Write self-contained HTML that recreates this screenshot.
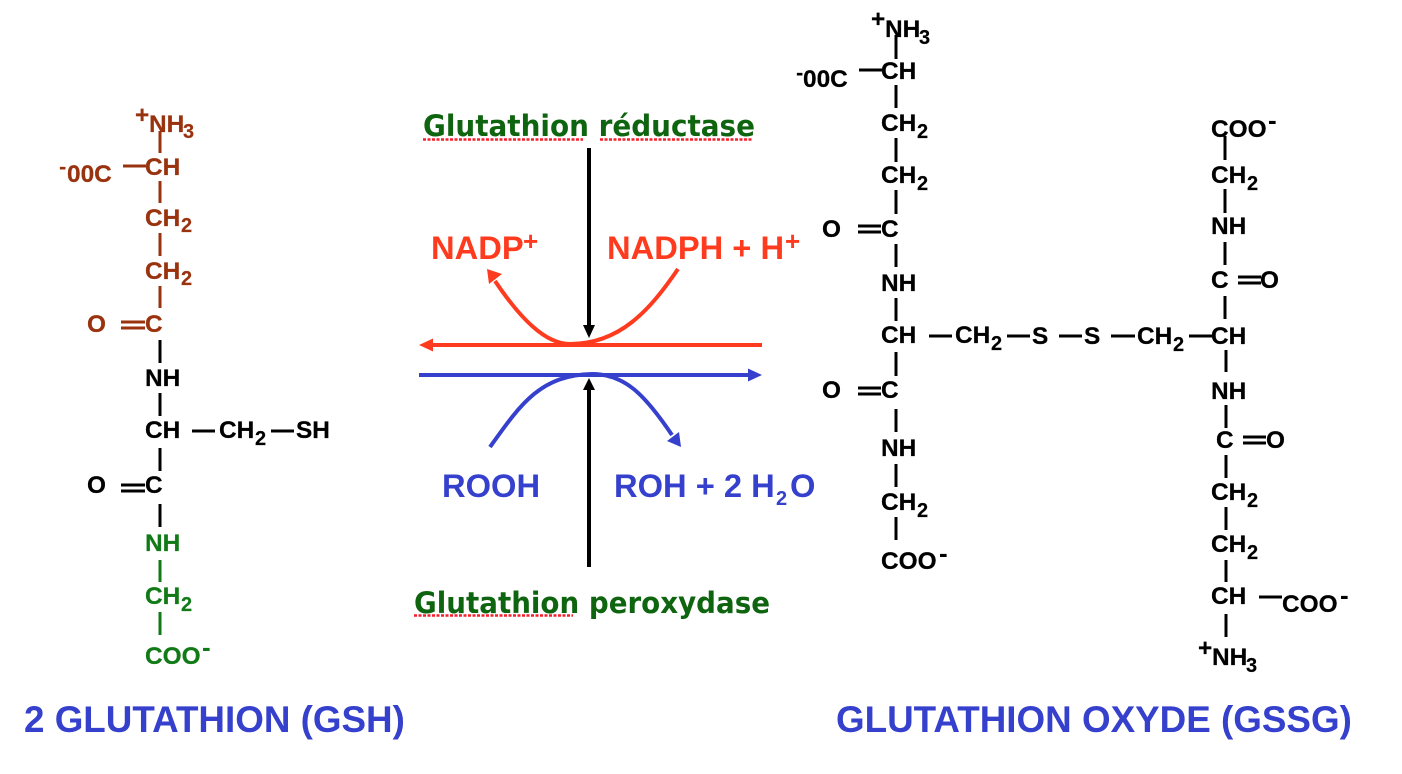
<!DOCTYPE html>
<html><head><meta charset="utf-8"><style>
html,body{margin:0;padding:0;background:#fff}
svg{display:block}
text{font-family:"Liberation Sans",Arial,sans-serif;font-weight:bold}
.m{font-size:24.4px;stroke:#000;stroke-width:.25px}
.s{font-size:15px}
.p{font-size:20px;stroke:#000;stroke-width:.2px}
.mi{font-size:26px}
.big{font-size:32.7px}
.sup{font-size:26px}
.h{font-size:36.8px;fill:#3540cc}
.c{font-family:"DejaVu Sans",sans-serif;font-size:29px;fill:#0f640f}
.br text{fill:#99330f;stroke:#99330f}.gr text{fill:#117a17;stroke:#117a17}
.br .mi,.gr .mi{stroke:none}
</style></head><body>
<svg width="1402" height="774" viewBox="0 0 1402 774" xmlns="http://www.w3.org/2000/svg">
<!-- left chain -->
<g stroke="#99330f" stroke-width="3" fill="none">
<path d="M160 131V153M160 181V203M160 233V256M160 286V308M123 166H146M121 322H145M121 328H145"/>
</g>
<g stroke="#000" stroke-width="3" fill="none">
<path d="M160 340V363M160 393V416M160 448V471M160 504V527M192 431H215M271 431H294M121 485H145M121 491H145"/>
</g>
<g stroke="#117a17" stroke-width="3" fill="none"><path d="M160 560V582M160 612V635"/></g>
<g class="br">
<text class="m" x="135" y="123">+</text><text class="m" x="149" y="132">NH</text><text class="p" x="183" y="138">3</text>
<text class="m" x="145" y="175">CH</text>
<text class="mi" x="59" y="174" style="font-size:22px">-</text><text class="m" x="67" y="182">00C</text>
<text class="m" x="145" y="226">CH</text><text class="p" x="181" y="232">2</text>
<text class="m" x="145" y="279">CH</text><text class="p" x="181" y="285">2</text>
<text class="m" x="87" y="332">O</text><text class="m" x="145" y="332">C</text>
</g>
<text class="m" x="145" y="386">NH</text>
<text class="m" x="145" y="438">CH</text><text class="m" x="219" y="438">CH</text><text class="p" x="255" y="445">2</text><text class="m" x="296" y="438">SH</text>
<text class="m" x="87" y="493">O</text><text class="m" x="145" y="493">C</text>
<g class="gr">
<text class="m" x="145" y="551">NH</text>
<text class="m" x="145" y="604">CH</text><text class="p" x="181" y="611">2</text>
<text class="m" x="145" y="664">COO</text><text class="mi" x="202" y="656">-</text>
</g>
<!-- centre -->
<text class="c" x="423" y="136" textLength="332" lengthAdjust="spacingAndGlyphs">Glutathion réductase</text>
<path d="M423 139.500H583M600 139.500H752" stroke="#f5202a" stroke-width="2.500" stroke-dasharray="3 1.500" fill="none"/>
<text class="c" x="414" y="613" textLength="356" lengthAdjust="spacingAndGlyphs">Glutathion peroxydase</text>
<path d="M414 615.500H573" stroke="#f5202a" stroke-width="2.500" stroke-dasharray="3 1.500" fill="none"/>
<text class="big" x="431" y="259" fill="#ff3b1f">NADP</text><text class="sup" x="523" y="250" fill="#ff3b1f">+</text>
<text class="big" x="607" y="259" fill="#ff3b1f">NADPH + H</text><text class="sup" x="785" y="250" fill="#ff3b1f">+</text>
<text class="big" x="442" y="497" fill="#3540cc">ROOH</text>
<text class="big" x="614" y="497" fill="#3540cc">ROH + 2 H</text><text class="p" x="776" y="505" fill="#3540cc" style="stroke:none">2</text><text class="big" x="790" y="497" fill="#3540cc">O</text>
<!-- red -->
<path d="M433 345H762" stroke="#ff3b1f" stroke-width="4" fill="none"/>
<path d="M419 345L433 338.500V351.500Z" fill="#ff3b1f"/>
<path d="M678 269C650 310 620 344 570 344C545 344 520 318 495 281" stroke="#ff3b1f" stroke-width="4" fill="none"/>
<path d="M487 269L502 274L489 284Z" fill="#ff3b1f"/>
<!-- blue -->
<path d="M419 375H748" stroke="#3540cc" stroke-width="4" fill="none"/>
<path d="M762 375L748 368.500V381.500Z" fill="#3540cc"/>
<path d="M490 447C520 405 540 375 592 374C625 374 645 395 672 435" stroke="#3540cc" stroke-width="4" fill="none"/>
<path d="M681 447L667 441L679 432Z" fill="#3540cc"/>
<!-- black arrows -->
<path d="M589 148V326M589 567V390" stroke="#000" stroke-width="4" fill="none"/>
<path d="M589 338L583 325H595ZM589 378L583 390H595Z" fill="#000"/>
<!-- right chain left strand -->
<path d="M896 35V59M896 85V108M896 138V162M896 190V214M896 244V267M896 298V321M896 352V376M896 409V432M896 464V487M896 517V540M859 70H882M858 226H881M858 232H881M858 388H881M858 394H881M929 336H952M1007 336H1030M1059 336H1082M1111 336H1135M1189 336H1212" stroke="#000" stroke-width="3" fill="none"/>
<text class="m" x="871" y="27">+</text><text class="m" x="885" y="37">NH</text><text class="p" x="919" y="44">3</text>
<text class="m" x="881" y="79">CH</text>
<text class="mi" x="796" y="80" style="font-size:22px">-</text><text class="m" x="803" y="87">00C</text>
<text class="m" x="881" y="131">CH</text><text class="p" x="917" y="138">2</text>
<text class="m" x="881" y="183">CH</text><text class="p" x="917" y="190">2</text>
<text class="m" x="822" y="237">O</text><text class="m" x="881" y="237">C</text>
<text class="m" x="881" y="291">NH</text>
<text class="m" x="881" y="343">CH</text><text class="m" x="955" y="343">CH</text><text class="p" x="991" y="350">2</text>
<text class="m" x="822" y="398">O</text><text class="m" x="881" y="398">C</text>
<text class="m" x="881" y="456">NH</text>
<text class="m" x="881" y="510">CH</text><text class="p" x="917" y="517">2</text>
<text class="m" x="881" y="569">COO</text><text class="mi" x="939" y="562">-</text>
<text class="m" x="1032" y="344">S</text><text class="m" x="1084" y="344">S</text>
<text class="m" x="1137" y="344">CH</text><text class="p" x="1173" y="351">2</text>
<!-- right strand -->
<path d="M1225 136V160M1225 189V213M1225 242V265M1225 296V319M1226 350V372M1226 405V428M1226 455V478M1226 507V530M1226 560V582M1226 614V637M1238 277H1261M1238 283H1261M1243 437H1266M1243 443H1266M1259 597H1282" stroke="#000" stroke-width="3" fill="none"/>
<text class="m" x="1211" y="137">COO</text><text class="mi" x="1268" y="129">-</text>
<text class="m" x="1211" y="183">CH</text><text class="p" x="1247" y="190">2</text>
<text class="m" x="1211" y="234">NH</text>
<text class="m" x="1211" y="288">C</text><text class="m" x="1260" y="288">O</text>
<text class="m" x="1211" y="344">CH</text>
<text class="m" x="1211" y="399">NH</text>
<text class="m" x="1216" y="448">C</text><text class="m" x="1266" y="448">O</text>
<text class="m" x="1211" y="500">CH</text><text class="p" x="1247" y="507">2</text>
<text class="m" x="1211" y="552">CH</text><text class="p" x="1247" y="559">2</text>
<text class="m" x="1211" y="604">CH</text>
<text class="m" x="1282" y="612">COO</text><text class="mi" x="1340" y="604">-</text>
<text class="m" x="1198" y="656">+</text><text class="m" x="1212" y="665">NH</text><text class="p" x="1246" y="672">3</text>
<!-- titles -->
<text class="h" x="24" y="732">2 GLUTATHION (GSH)</text>
<text class="h" x="836" y="732">GLUTATHION OXYDE (GSSG)</text>
</svg>
</body></html>
